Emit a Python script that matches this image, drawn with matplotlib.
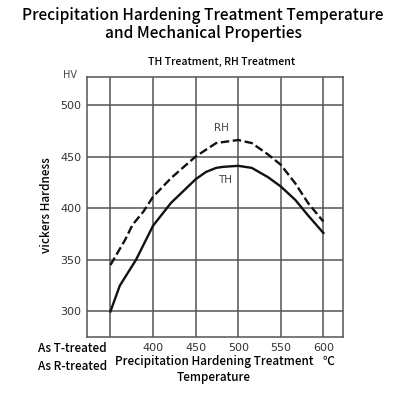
import matplotlib
matplotlib.use("Agg")
import matplotlib.pyplot as plt

# Datos (temperatura en °C, dureza en HV)
temps_rh = [350, 367, 376, 389, 400, 421, 432, 450, 474, 482, 500, 516, 535, 550, 567, 582, 600]
hv_rh = [345, 369, 384, 397, 411, 429, 437, 450, 463, 464, 466, 463, 452, 442, 424, 405, 387]
temps_th = [350, 361, 380, 400, 421, 450, 462, 474, 482, 500, 516, 535, 550, 567, 582, 600]
hv_th = [300, 325, 350, 383, 405, 428, 435, 439, 440, 441, 439, 430, 421, 408, 393, 376]

x_grid = [350, 400, 450, 500, 550, 600]
x_ticks = [400, 450, 500, 550, 600]
y_ticks = [300, 350, 400, 450, 500]

texto = ["Noto Sans CJK JP", "DejaVu Sans"]
escaneo = ["Liberation Sans Narrow", "DejaVu Sans"]
gris = "#555555"

fig = plt.figure(figsize=(4.03, 3.99), dpi=100)
ax = fig.add_axes([87 / 403, 1 - 337 / 399, 256 / 403, 260 / 399])

# Rejilla manual
for x in x_grid:
    ax.axvline(x, color=gris, lw=1.1, zorder=1)
for y in y_ticks:
    ax.axhline(y, color=gris, lw=1.1, zorder=1)

ax.plot(temps_rh, hv_rh, color="#111111", lw=1.7, dashes=(3.6, 1.5), zorder=3)
ax.plot(temps_th, hv_th, color="#111111", lw=1.7, zorder=3)

ax.set_xlim(322.5, 623)
ax.set_ylim(275.3, 527)
ax.set_xticks(x_ticks)
ax.set_yticks(y_ticks)
ax.tick_params(length=0, labelsize=8, labelcolor="#333333", pad=4)
for lab in ax.get_xticklabels() + ax.get_yticklabels():
    lab.set_family(escaneo)
for s in ax.spines.values():
    s.set_color(gris)
    s.set_linewidth(1.1)

ax.text(480, 478, "RH", fontsize=7.5, color="#444444", family=escaneo, ha="center", va="center")
ax.text(485, 427.5, "TH", fontsize=7.5, color="#444444", family=escaneo, ha="center", va="center")

# Textos fuera de los ejes (coordenadas en píxeles de la figura)
def txt(x, y, s, **kw):
    fig.text(x / 403, 1 - y / 399, s, family=texto, **kw)

txt(203, 15, "Precipitation Hardening Treatment Temperature", fontsize=11.2, weight="medium", ha="center", va="center")
txt(203, 33, "and Mechanical Properties", fontsize=11.2, weight="medium", ha="center", va="center")
txt(222, 62, "TH Treatment, RH Treatment", fontsize=7.6, weight="medium", ha="center", va="center")
fig.text(70 / 403, 1 - 75 / 399, "HV", fontsize=7, color="#444444", family=escaneo, ha="center", va="center")
txt(46, 205, "vickers Hardness", fontsize=8.5, weight="medium", rotation=90, ha="center", va="center")
txt(214, 361, "Precipitation Hardening Treatment", fontsize=8.5, weight="medium", ha="center", va="center")
txt(214, 377, "Temperature", fontsize=8.5, weight="medium", ha="center", va="center")
txt(328, 361, "℃", fontsize=8.5, weight="medium", ha="center", va="center")
txt(38, 349, "As T-treated", fontsize=8.5, weight="medium", ha="left", va="center")
txt(38, 366, "As R-treated", fontsize=8.5, weight="medium", ha="left", va="center")

fig.savefig("out.png", dpi=100)
